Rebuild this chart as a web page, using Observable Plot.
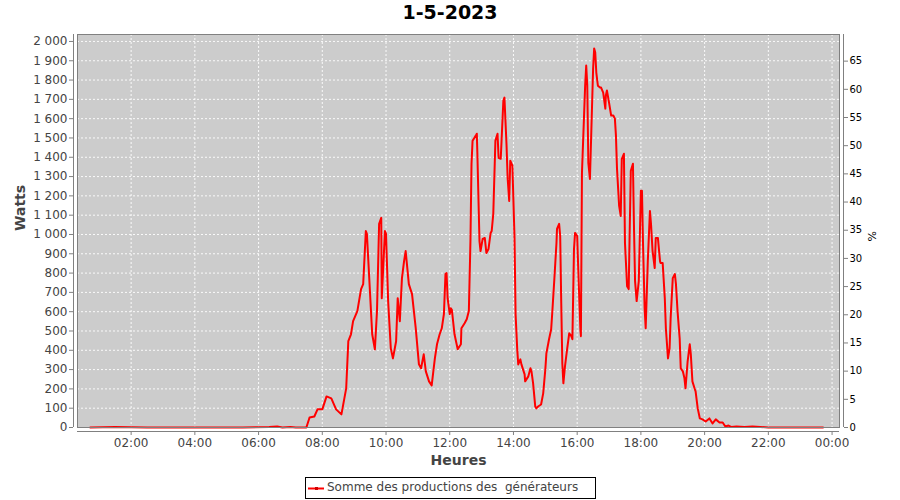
<!DOCTYPE html>
<html>
<head>
<meta charset="utf-8">
<script src="https://cdn.jsdelivr.net/npm/d3@7"></script>
<script src="https://cdn.jsdelivr.net/npm/@observablehq/plot@0.6"></script>
<style>
  body { margin: 0; background: #fff; font-family: "DejaVu Sans", sans-serif; }
  #page { position: relative; width: 900px; height: 500px; overflow: hidden; }
  #title { position: absolute; left: 0; top: 0; width: 900px; height: 24px; line-height: 24px;
           text-align: center; font-weight: bold; font-size: 19px; color: #000; }
  #chart { position: absolute; left: 0; top: 24px; }
  #legend { position: absolute; left: 305px; top: 477px; width: 291px; height: 22px;
            box-sizing: border-box; border: 1px solid #000; background: #fff; }
  #legend svg { position: absolute; left: 2px; top: 5px; }
  #legend span { position: absolute; left: 21px; top: 2px; font-size: 12px; color: #444; white-space: pre; }
</style>
</head>
<body>
<div id="page">
  <div id="title">1-5-2023</div>
  <div id="chart"></div>
  <div id="legend">
    <svg width="17" height="10"><line x1="0" y1="5.5" x2="16" y2="5.5" stroke="#ff0000" stroke-width="2"/><rect x="7" y="4" width="3" height="3" fill="#d00000"/></svg>
    <span id="legend-label"></span>
  </div>
</div>
<script>
// ---- data ----
const chartTitle = "1-5-2023";
const seriesName = "Somme des productions des  générateurs";

const times = [
  "00:43","01:30","02:30","04:00","05:30","06:20","06:35","06:45","07:00","07:10","07:17","07:30",
  "07:36","07:45","07:51","08:00","08:08","08:17","08:26","08:36","08:45","08:49","08:54","08:58",
  "09:06","09:13","09:17","09:22","09:24","09:30","09:34","09:39","09:43","09:47","09:51","09:52",
  "09:58","10:00","10:04","10:09","10:13","10:19","10:22","10:26","10:30","10:34","10:37","10:43",
  "10:49","10:56","11:02","11:06","11:11","11:15","11:21","11:26","11:32","11:36","11:41","11:45",
  "11:49","11:52","11:54","11:56","12:00","12:02","12:04","12:09","12:15","12:21","12:22","12:28",
  "12:32","12:36","12:39","12:41","12:43","12:49","12:51","12:52","12:56","12:58","13:02","13:06",
  "13:09","13:13","13:17","13:19","13:22","13:26","13:30","13:32","13:36","13:37","13:41","13:43",
  "13:47","13:49","13:52","13:54","13:58","14:02","14:04","14:07","14:09","14:13","14:15","14:21",
  "14:22","14:28","14:32","14:34","14:37","14:41","14:43","14:47","14:52","14:56","15:00","15:02",
  "15:07","15:11","15:13","15:17","15:21","15:22","15:26","15:28","15:30","15:32","15:34","15:37",
  "15:41","15:45","15:49","15:51","15:54","15:56","16:00","16:02","16:06","16:07","16:09","16:15",
  "16:17","16:19","16:21","16:24","16:26","16:30","16:32","16:34","16:36","16:39","16:43","16:45",
  "16:49","16:53","16:54","16:56","17:00","17:04","17:08","17:11","17:13","17:15","17:19","17:22",
  "17:24","17:28","17:30","17:34","17:37","17:39","17:41","17:45","17:47","17:49","17:52","17:56",
  "18:00","18:02","18:04","18:07","18:09","18:13","18:17","18:19","18:22","18:26","18:28","18:32",
  "18:36","18:37","18:41","18:45","18:47","18:51","18:54","18:56","19:00","19:04","19:06","19:09",
  "19:13","19:15","19:19","19:22","19:24","19:28","19:32","19:34","19:37","19:41","19:43","19:47",
  "19:51","19:56","20:02","20:09","20:15","20:21","20:28","20:34","20:39","20:45","20:50","21:00",
  "21:15","21:30","21:45","22:00","23:00","23:43"
];
const watts = [
  0,2,0,0,0,3,5,0,3,0,0,0,
  52,57,94,94,161,151,94,68,203,447,483,551,
  603,717,743,1018,1003,691,483,405,603,1055,1086,670,
  1018,1003,655,410,358,447,670,551,774,862,914,743,
  691,514,327,307,379,291,239,218,358,431,483,514,
  587,795,800,670,587,618,610,483,405,431,514,540,
  561,603,966,1366,1486,1512,1522,1423,966,914,977,982,
  904,925,1008,1018,1107,1486,1522,1397,1392,1449,1694,1709,
  1460,1294,1174,1382,1356,982,587,410,327,353,327,275,
  239,265,307,290,229,109,99,110,119,177,301,384,
  457,509,592,769,956,1029,1055,992,644,333,229,317,
  405,488,473,457,925,1008,992,821,509,473,1320,1771,
  1875,1771,1371,1288,1475,1860,1964,1943,1839,1771,1761,1761,
  1735,1652,1720,1746,1683,1616,1616,1600,1512,1340,1148,1096,
  1392,1418,956,732,717,1034,1330,1366,1034,758,655,758,
  1226,1226,951,618,514,862,1122,1055,914,826,982,982,
  862,852,852,670,514,358,410,566,774,795,743,603,
  462,307,291,255,203,343,431,379,239,203,187,99,
  47,42,31,47,21,42,26,26,5,10,3,5,
  2,5,3,0,0,0
];
const xTickHours = [2,4,6,8,10,12,14,16,18,20,22,24];
const yTicks = d3.range(0, 2001, 100);
const pctTicks = d3.range(0, 66, 5);
const wattsPerPct = 29.2;   // relation between the left (W) and right (%) axes
const yMax = 2036;

// ---- build ----
document.getElementById("title").textContent = chartTitle;
document.getElementById("legend-label").textContent = seriesName;

const at = (h, m) => new Date(Date.UTC(2023, 4, 1, h, m));
const data = times.map((t, i) => {
  const [h, m] = t.split(":").map(Number);
  return {date: at(h, m), watts: watts[i]};
});
const xStart = at(0, 19);
const xEnd = at(24, 14);
const xTicks = xTickHours.map(h => at(h, 0));
const fr = d3.formatLocale({decimal: ",", thousands: "\u00a0", grouping: [3], currency: ["", " €"]});
const fmtW = fr.format(",");

const chart = Plot.plot({
  width: 900,
  height: 450,
  marginLeft: 77,
  marginRight: 61,
  marginTop: 10,
  marginBottom: 47,
  style: {fontFamily: "DejaVu Sans, sans-serif", fontSize: "12px", background: "white", overflow: "visible"},
  x: {type: "utc", domain: [xStart, xEnd]},
  y: {domain: [0, yMax]},
  marks: [
    Plot.frame({fill: "#cccccc", stroke: null}),
    Plot.gridX(xTicks, {stroke: "#ffffff", strokeOpacity: 0.9, strokeDasharray: "2,2"}),
    Plot.gridY(yTicks, {stroke: "#ffffff", strokeOpacity: 0.9, strokeDasharray: "2,2"}),
    Plot.line(data, {x: "date", y: "watts", stroke: "#ff0000", strokeWidth: 2, strokeLinejoin: "round"}),
    Plot.frame({stroke: "#808080"}),
    Plot.ruleX([xStart], {dx: -4, stroke: "#808080"}),
    Plot.ruleX([xEnd], {dx: 4, stroke: "#808080"}),
    Plot.ruleY([0], {dy: 4, stroke: "#808080"}),
    Plot.axisY(yTicks, {anchor: "left", dx: -4, tickSize: 4, tickPadding: 2, tickFormat: d => fmtW(d),
      stroke: "#808080", fill: "#444", label: null}),
    Plot.axisY(pctTicks.map(p => p * wattsPerPct), {anchor: "right", dx: 4, tickSize: 4, tickPadding: 2,
      tickFormat: d => String(Math.round(d / wattsPerPct)), fontSize: 10, stroke: "#808080", fill: "#000", label: null}),
    Plot.axisX(xTicks, {anchor: "bottom", dy: 4, tickSize: 4, tickPadding: 3, tickFormat: d3.utcFormat("%H:%M"),
      stroke: "#808080", fill: "#444", label: null}),
    Plot.text(["Watts"], {text: d => d, frameAnchor: "left", dx: -57, rotate: -90, fontWeight: "bold", fontSize: 14, fill: "#444"}),
    Plot.text(["Heures"], {text: d => d, frameAnchor: "bottom", dy: 37, fontWeight: "bold", fontSize: 14, fill: "#444"}),
    Plot.text(["%"], {text: d => d, frameAnchor: "right", dx: 33, rotate: -90, fontSize: 11, fill: "#000"})
  ]
});
document.getElementById("chart").appendChild(chart);
</script>
</body>
</html>
